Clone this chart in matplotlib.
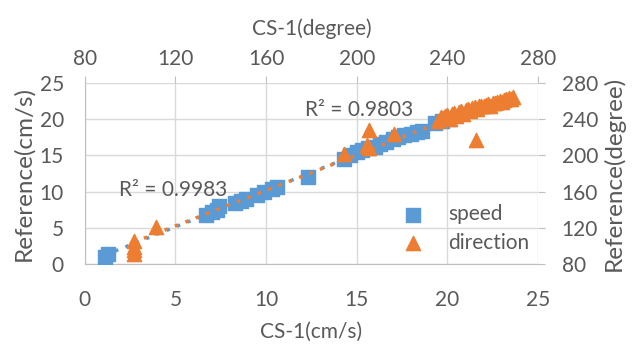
import matplotlib
matplotlib.use("Agg")
import matplotlib.pyplot as plt
import numpy as np

plt.rcParams['font.family'] = ['Lato', 'DejaVu Sans']

# speed (cm/s)
speed_x = [1.1, 1.3, 6.7, 7.0, 7.3, 7.4, 8.3, 8.6, 8.9, 9.5, 9.9, 10.3, 10.6, 12.3,
           14.3, 14.6, 15.0, 15.3, 15.6, 16.0, 16.3, 16.6, 17.0, 17.3, 17.6, 18.0,
           18.3, 18.6, 19.3, 19.7, 20.1]
speed_y = [1.0, 1.4, 6.8, 7.2, 7.5, 8.0, 8.4, 8.7, 9.0, 9.5, 9.9, 10.4, 10.7, 12.0,
           14.5, 15.0, 15.5, 15.8, 16.0, 16.2, 16.6, 16.9, 17.2, 17.5, 17.8, 18.0,
           18.2, 18.4, 19.5, 19.8, 20.0]

# direction (degree)
dir_x = [101.5, 101.5, 101.5, 101.8, 111.5, 194.5, 204.5, 205.5, 205.5, 216.5,
         236, 237, 238, 239, 240, 241, 242, 243, 244, 245, 246, 247, 248, 249, 250,
         251, 252, 253, 254, 255, 256, 257, 258, 259, 260, 261, 262, 263, 264, 265,
         266, 267, 268, 269, 252.5]
dir_y = [91, 95, 99, 105, 121, 202, 211, 208, 228, 224,
         238, 242, 241, 244, 245, 240, 246, 247, 244, 248, 249, 246, 250, 251, 249,
         252, 253, 251, 254, 254, 255, 256, 257, 255, 258, 258, 259, 260, 259, 261,
         262, 263, 262, 264, 217]

speed_ticks = [0, 5, 10, 15, 20, 25]
deg_ticks = [80, 120, 160, 200, 240, 280]

blue = '#5B9BD5'
orange = '#ED7D31'
txt = '#595959'
grid = '#D9D9D9'

fig = plt.figure(figsize=(6.33, 3.47), dpi=100)
pos = [0.134, 0.239, 0.716, 0.522]
ax = fig.add_axes(pos)
ax2 = fig.add_axes(pos, frameon=False)

ax.set_xlim(0, 25)
ax.set_ylim(0, 25)
ax.set_xticks(speed_ticks)
ax.set_yticks(speed_ticks)
ax.grid(True, color=grid, lw=1)
ax.set_axisbelow(True)
for s in ['top', 'right']:
    ax.spines[s].set_visible(False)
for s in ['left', 'bottom']:
    ax.spines[s].set_color('#BFBFBF')
ax.tick_params(length=0, labelsize=15, colors=txt)
ax.tick_params(axis='x', pad=19)
ax.tick_params(axis='y', pad=15)
ax.set_xlabel('CS-1(cm/s)', fontsize=15, color=txt, labelpad=8)
ax.set_ylabel('Reference(cm/s)', fontsize=17.5, color=txt, labelpad=4)

ax2.set_xlim(80, 280)
ax2.set_ylim(80, 280)
ax2.set_xticks(deg_ticks)
ax2.set_yticks(deg_ticks)
ax2.xaxis.tick_top()
ax2.yaxis.tick_right()
ax2.xaxis.set_label_position('top')
ax2.yaxis.set_label_position('right')
ax2.tick_params(length=5, color='#BFBFBF', labelsize=15, labelcolor=txt)
ax2.tick_params(axis='x', pad=5)
ax2.tick_params(axis='y', pad=12)
ax2.set_xlabel('CS-1(degree)', fontsize=15, color=txt, labelpad=10)
ax2.set_ylabel('Reference(degree)', fontsize=17.5, color=txt, labelpad=3)

# speed
sx = np.array(speed_x); sy = np.array(speed_y)
ax.scatter(sx, sy, marker='s', s=90, color=blue, zorder=3, label='speed')
p = np.polyfit(sx, sy, 1)
xx = np.array([sx.min(), sx.max()])
ax.plot(xx, np.polyval(p, xx), ls=(0, (1, 2.2)), lw=2.5, color=blue, zorder=4)

# direction
dx = np.array(dir_x); dy = np.array(dir_y)
ax2.scatter(dx, dy, marker='^', s=105, color=orange, zorder=3, label='direction')
q = np.polyfit(dx, dy, 1)
xx2 = np.array([dx.min(), dx.max()])
ax2.plot(xx2, np.polyval(q, xx2), ls=(0, (1, 2.2)), lw=2.5, color=orange, zorder=4)

ax.text(1.9, 9.4, 'R² = 0.9983', fontsize=15, color=txt)
ax2.text(177, 243, 'R² = 0.9803', fontsize=15, color=txt)

h1, l1 = ax.get_legend_handles_labels()
h2, l2 = ax2.get_legend_handles_labels()
ax2.legend(h1 + h2, l1 + l2, loc='lower left', bbox_to_anchor=(0.66, -0.04),
           frameon=False, fontsize=15, labelcolor=txt, handlelength=1.0,
           handletextpad=1.2, labelspacing=0.4)

fig.savefig('out.png', dpi=100)
